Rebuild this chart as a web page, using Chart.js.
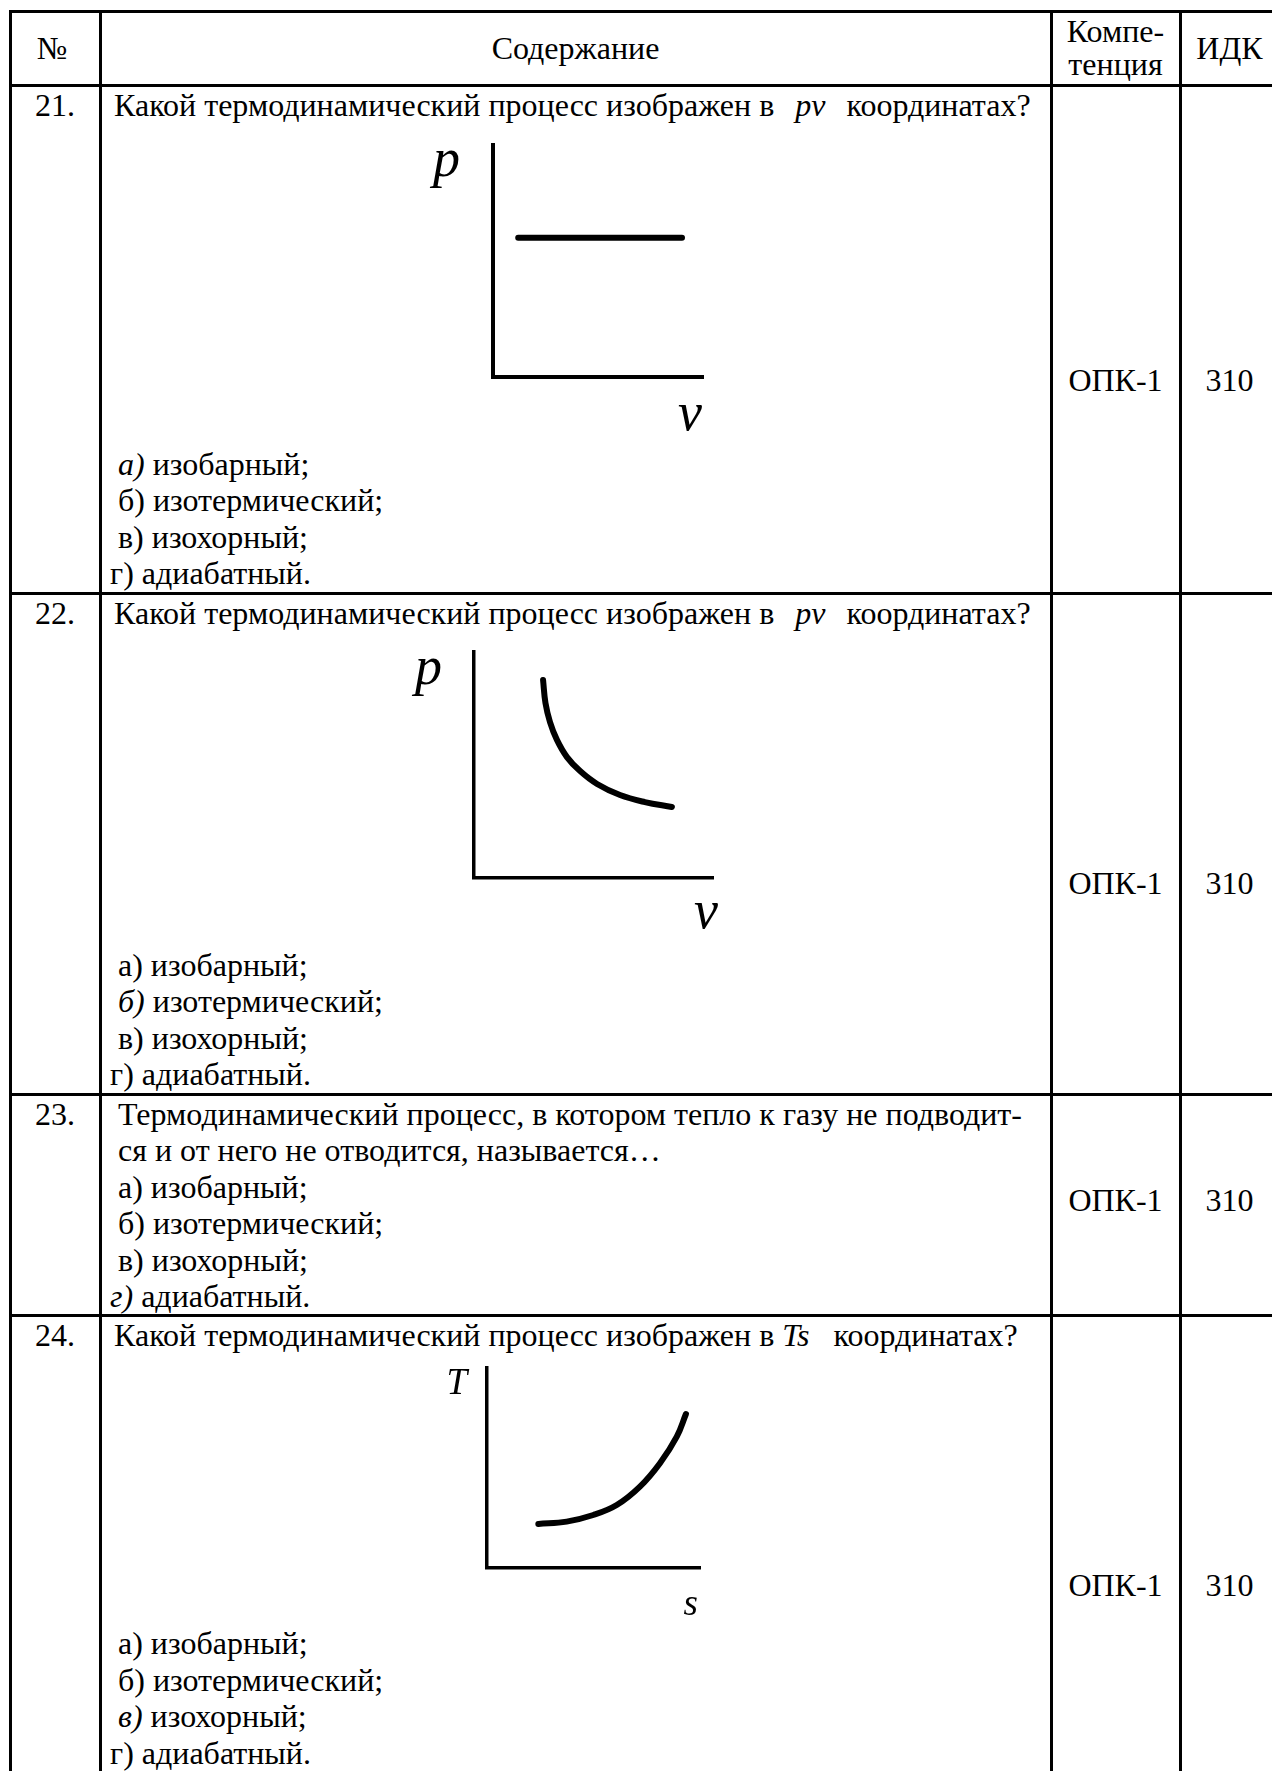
<!DOCTYPE html>
<html lang="ru">
<head>
<meta charset="utf-8">
<script src="https://cdn.jsdelivr.net/npm/chart.js@4.4.1/dist/chart.umd.min.js"></script>
<style>
  html, body { margin: 0; padding: 0; background: #fff; }
  body {
    width: 1272px; height: 1771px; overflow: hidden; position: relative;
    font-family: "Liberation Serif", "Times New Roman", serif;
    font-size: 32px; line-height: 36.5px; color: #000;
  }
  table {
    position: absolute; left: 8.5px; top: 9.5px;
    border-collapse: collapse; table-layout: fixed; width: 1269px;
  }
  td { border: 3px solid #000; padding: 0; vertical-align: top; }
  .hd { height: 71px; display: flex; align-items: center; justify-content: center; text-align: center; }
  .two { line-height: 33px; }
  .num { text-align: center; }
  .txt { padding-left: 8.5px; white-space: nowrap; overflow: visible; }
  .q { margin-left: 4px; }
  .sym { margin: 0 5px; }
  .mid { text-align: center; }
  canvas { position: absolute; }
</style>
</head>
<body>
<table>
  <colgroup>
    <col style="width:90px">
    <col style="width:951px">
    <col style="width:129px">
    <col style="width:99px">
  </colgroup>
  <tr>
    <td><div class="hd" style="padding-right:6px">№</div></td>
    <td><div class="hd">Содержание</div></td>
    <td><div class="hd two">Компе-<br>тенция</div></td>
    <td><div class="hd">ИДК</div></td>
  </tr>
  <tr>
    <td><div class="num">21.</div></td>
    <td><div class="txt" style="height:505px">
      <div class="q">Какой термодинамический процесс изображен в&nbsp; <i class="sym">pv</i>&nbsp; координатах?</div>
      <div style="height:322.5px"></div>
      <div>&nbsp;<i>а)</i> изобарный;</div>
      <div>&nbsp;б) изотермический;</div>
      <div>&nbsp;в) изохорный;</div>
      <div>г) адиабатный.</div>
    </div></td>
    <td><div class="mid" style="padding-top:275px">ОПК-1</div></td>
    <td><div class="mid" style="padding-top:275px">310</div></td>
  </tr>
  <tr>
    <td><div class="num">22.</div></td>
    <td><div class="txt" style="height:498px">
      <div class="q">Какой термодинамический процесс изображен в&nbsp; <i class="sym">pv</i>&nbsp; координатах?</div>
      <div style="height:315.5px"></div>
      <div>&nbsp;а) изобарный;</div>
      <div>&nbsp;<i>б)</i> изотермический;</div>
      <div>&nbsp;в) изохорный;</div>
      <div>г) адиабатный.</div>
    </div></td>
    <td><div class="mid" style="padding-top:270px">ОПК-1</div></td>
    <td><div class="mid" style="padding-top:270px">310</div></td>
  </tr>
  <tr>
    <td><div class="num">23.</div></td>
    <td><div class="txt" style="height:218px">
      <div>&nbsp;Термодинамический процесс, в котором тепло к газу не подводит-</div>
      <div>&nbsp;ся и от него не отводится, называется…</div>
      <div>&nbsp;а) изобарный;</div>
      <div>&nbsp;б) изотермический;</div>
      <div>&nbsp;в) изохорный;</div>
      <div><i>г)</i> адиабатный.</div>
    </div></td>
    <td><div class="mid" style="padding-top:86px">ОПК-1</div></td>
    <td><div class="mid" style="padding-top:86px">310</div></td>
  </tr>
  <tr>
    <td><div class="num">24.</div></td>
    <td><div class="txt" style="height:600px">
      <div class="q">Какой термодинамический процесс изображен в <i>Ts</i>&nbsp;&nbsp; координатах?</div>
      <div style="height:272px"></div>
      <div>&nbsp;а) изобарный;</div>
      <div>&nbsp;б) изотермический;</div>
      <div>&nbsp;<i>в)</i> изохорный;</div>
      <div>г) адиабатный.</div>
    </div></td>
    <td><div class="mid" style="padding-top:250px">ОПК-1</div></td>
    <td><div class="mid" style="padding-top:250px">310</div></td>
  </tr>
</table>

<canvas id="isobar" width="310" height="320" style="left:420px;top:130px"></canvas>
<canvas id="isotherm" width="340" height="310" style="left:400px;top:632px"></canvas>
<canvas id="isochor" width="310" height="280" style="left:420px;top:1350px"></canvas>

<script>
const ISOBAR_V = [12, 90];
const ISOBAR_P = [60, 60];

const ISOTHERM_V = [28.9, 29.9, 31.8, 34.7, 38.9, 44.4, 51.5, 61.1, 71.5, 82.8];
const ISOTHERM_P = [87.6, 77.4, 69.0, 61.1, 53.5, 47.3, 41.6, 36.7, 33.6, 31.4];

const ISOCHOR_S = [24.1, 37.4, 49.9, 60.9, 71.8, 81.2, 89.1, 93.4];
const ISOCHOR_T = [22.0, 23.2, 26.5, 31.5, 40.7, 52.4, 65.7, 77.0];

// italic axis letters next to the chart area
const axisLetters = {
  id: 'axisLetters',
  afterDraw(chart, args, opts) {
    const { ctx, chartArea: a } = chart;
    ctx.save();
    ctx.fillStyle = '#000';
    ctx.font = `italic ${opts.size}px "Liberation Serif"`;
    ctx.textAlign = 'right';
    ctx.textBaseline = 'alphabetic';
    ctx.fillText(opts.yText, a.left + opts.yDx, a.top + opts.yDy);
    ctx.fillText(opts.xText, a.right + opts.xDx, a.bottom + opts.xDy);
    ctx.restore();
  }
};

function axis(width) {
  return {
    type: 'linear', min: 0, max: 100,
    grid: { display: false, drawTicks: false },
    ticks: { display: false },
    border: { display: true, color: '#000', width: width },
  };
}

function drawDiagram(id, xs, ys, pad, axisWidth, letters) {
  new Chart(document.getElementById(id), {
    type: 'scatter',
    data: {
      datasets: [{
        data: xs.map((x, i) => ({ x, y: ys[i] })),
        showLine: true,
        borderColor: '#000',
        borderWidth: 6,
        borderCapStyle: 'round',
        borderJoinStyle: 'round',
        pointRadius: 0,
        tension: 0.4,
        fill: false,
      }],
    },
    options: {
      responsive: false,
      animation: false,
      events: [],
      layout: { padding: pad, autoPadding: false },
      plugins: { legend: { display: false }, tooltip: { enabled: false }, axisLetters: letters },
      scales: { x: axis(axisWidth), y: axis(axisWidth) },
    },
    plugins: [axisLetters],
  });
}

drawDiagram('isobar', ISOBAR_V, ISOBAR_P,
  { left: 73, top: 15, right: 27, bottom: 73 }, 4,
  { size: 54, yText: 'p', yDx: -33, yDy: 31, xText: 'v', xDx: -1, xDy: 53 });

drawDiagram('isotherm', ISOTHERM_V, ISOTHERM_P,
  { left: 74, top: 20, right: 27, bottom: 64 }, 3.5,
  { size: 54, yText: 'p', yDx: -32, yDy: 32, xText: 'v', xDx: 5, xDy: 50 });

drawDiagram('isochor', ISOCHOR_S, ISOCHOR_T,
  { left: 67, top: 18, right: 30, bottom: 62 }, 3.5,
  { size: 37, yText: 'T', yDx: -20, yDy: 26, xText: 's', xDx: -2, xDy: 47 });
</script>
</body>
</html>
